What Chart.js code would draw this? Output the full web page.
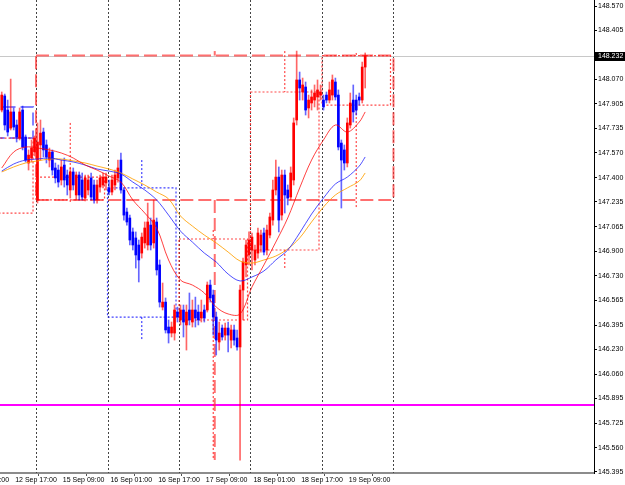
<!DOCTYPE html>
<html>
<head>
<meta charset="utf-8">
<script src="https://cdn.jsdelivr.net/npm/chart.js@4.4.1/dist/chart.umd.min.js"></script>
<style>
  html, body { margin: 0; padding: 0; background: #fff; }
  #wrap { width: 625px; height: 485px; }
</style>
</head>
<body>
<div id="wrap"><canvas id="chart" width="625" height="485"></canvas></div>
<script>
// H1 bars, index 0 = 12 Sep 12:00
const opens = [
  147.861, 147.957, 147.861, 147.738, 147.848, 147.759, 147.670, 147.861, 147.677, 147.500, 147.534, 147.575,
  147.248, 147.623, 147.711, 147.623, 147.520, 147.575, 147.466, 147.452, 147.384, 147.486, 147.418, 147.316,
  147.439, 147.282, 147.418, 147.384, 147.261, 147.316, 147.398, 147.350, 147.248, 147.336, 147.350, 147.364,
  147.330, 147.302, 147.350, 147.398, 147.520, 147.316, 147.166, 147.125, 147.030, 146.989, 146.941, 146.886,
  146.955, 146.941, 147.077, 146.955, 147.098, 146.805, 146.518, 146.552, 146.382, 146.341, 146.341, 146.484,
  146.430, 146.498, 146.396, 146.498, 146.416, 146.498, 146.484, 146.443, 146.498, 146.498, 146.668, 146.600,
  146.450, 146.280, 146.375, 146.327, 146.375, 146.293, 146.362, 146.307, 146.246, 146.634, 146.805, 146.873,
  146.907, 146.839, 146.886, 146.941, 147.023, 146.907, 147.009, 147.111, 147.316, 147.404, 147.145, 147.418,
  147.316, 147.268, 147.384, 147.793, 148.066, 147.984, 148.018, 147.875, 147.909, 147.929, 147.950, 147.963,
  147.929, 147.963, 147.929, 147.963, 148.052, 147.963, 147.636, 147.589, 147.500, 147.759, 147.929, 147.929,
  147.950, 147.929, 148.154
];
const highs = [
  147.984, 147.970, 147.929, 148.072, 147.875, 147.793, 147.875, 147.888, 147.691, 147.589, 147.657, 147.684,
  147.773, 147.793, 147.738, 147.657, 147.602, 147.589, 147.500, 147.486, 147.520, 147.534, 147.452, 147.466,
  147.466, 147.439, 147.439, 147.432, 147.418, 147.418, 147.432, 147.384, 147.384, 147.418, 147.432, 147.432,
  147.384, 147.418, 147.452, 147.520, 147.568, 147.330, 147.193, 147.145, 147.057, 147.030, 146.975, 147.023,
  147.098, 147.227, 147.125, 147.248, 147.125, 146.839, 146.682, 146.580, 146.430, 146.416, 146.532, 146.518,
  146.532, 146.532, 146.532, 146.614, 146.566, 146.586, 146.532, 146.566, 146.532, 146.689, 146.702, 146.634,
  146.484, 146.416, 146.396, 146.409, 146.416, 146.396, 146.396, 146.362, 146.668, 146.852, 146.975, 147.030,
  147.023, 146.941, 147.057, 147.043, 147.057, 147.077, 147.159, 147.384, 147.520, 147.473, 147.452, 147.452,
  147.350, 147.473, 147.807, 148.263, 148.120, 148.079, 148.052, 147.963, 147.998, 148.032, 148.066, 148.032,
  147.963, 147.984, 148.052, 148.100, 148.079, 147.998, 147.657, 147.623, 147.807, 147.977, 148.032, 147.963,
  147.977, 148.188, 148.250
];
const lows = [
  147.848, 147.725, 147.684, 147.725, 147.725, 147.643, 147.657, 147.589, 147.507, 147.452, 147.507, 147.548,
  147.227, 147.520, 147.541, 147.500, 147.473, 147.418, 147.364, 147.336, 147.350, 147.336, 147.282, 147.261,
  147.316, 147.248, 147.248, 147.248, 147.241, 147.282, 147.248, 147.227, 147.227, 147.302, 147.330, 147.316,
  147.282, 147.282, 147.316, 147.370, 147.295, 147.111, 147.077, 146.941, 146.907, 146.784, 146.689, 146.852,
  146.920, 146.907, 146.907, 146.920, 146.736, 146.518, 146.498, 146.341, 146.273, 146.314, 146.293, 146.416,
  146.396, 146.314, 146.225, 146.396, 146.382, 146.382, 146.396, 146.416, 146.416, 146.484, 146.552, 146.327,
  146.191, 146.225, 146.293, 146.293, 146.212, 146.239, 146.259, 146.225, 145.475, 146.430, 146.723, 146.805,
  146.771, 146.805, 146.852, 146.893, 146.873, 146.873, 146.989, 147.077, 147.282, 147.030, 147.111, 147.159,
  147.214, 147.248, 147.350, 147.759, 147.929, 147.929, 147.827, 147.807, 147.861, 147.882, 147.861, 147.929,
  147.861, 147.909, 147.909, 147.929, 147.929, 147.589, 147.193, 147.452, 147.473, 147.738, 147.779, 147.827,
  147.895, 147.909, 148.011
];
const closes = [
  147.963, 147.759, 147.711, 147.848, 147.745, 147.677, 147.848, 147.609, 147.520, 147.554, 147.602, 147.670,
  147.643, 147.704, 147.589, 147.541, 147.575, 147.452, 147.398, 147.370, 147.473, 147.384, 147.350, 147.439,
  147.350, 147.418, 147.282, 147.268, 147.398, 147.384, 147.268, 147.248, 147.350, 147.398, 147.404, 147.404,
  147.302, 147.384, 147.418, 147.466, 147.316, 147.145, 147.098, 146.975, 146.941, 146.873, 146.839, 146.995,
  147.057, 147.098, 146.941, 147.111, 146.771, 146.552, 146.552, 146.362, 146.341, 146.382, 146.498, 146.450,
  146.498, 146.416, 146.484, 146.430, 146.498, 146.443, 146.430, 146.484, 146.443, 146.668, 146.580, 146.450,
  146.293, 146.341, 146.314, 146.375, 146.327, 146.362, 146.293, 146.246, 146.634, 146.825, 146.941, 146.975,
  146.995, 146.907, 147.023, 147.009, 146.893, 147.043, 147.132, 147.316, 147.404, 147.111, 147.418, 147.282,
  147.261, 147.432, 147.773, 148.066, 148.011, 148.032, 147.861, 147.929, 147.950, 147.977, 147.998, 147.984,
  147.882, 147.929, 147.998, 148.066, 147.950, 147.609, 147.520, 147.500, 147.773, 147.909, 147.848, 147.861,
  147.929, 148.154, 148.232
];

// moving averages at every 4th bar
const maIdx = [0, 4, 8, 12, 16, 20, 24, 28, 32, 36, 40, 44, 48, 52, 56, 60, 64, 68, 72, 76, 80, 84, 88, 92, 96, 100, 104, 108, 112, 116, 120, 122];
const maFast = [147.466, 147.575, 147.609, 147.602, 147.589, 147.568, 147.534, 147.486, 147.452, 147.411, 147.370, 147.248, 147.159, 147.057, 146.839, 146.702,
  146.668, 146.614, 146.518, 146.471, 146.471, 146.655, 146.805, 146.961, 147.125, 147.330, 147.520, 147.657, 147.759, 147.711, 147.779, 147.848];
const maMid = [147.445, 147.493, 147.520, 147.527, 147.534, 147.520, 147.507, 147.486, 147.459, 147.445, 147.425, 147.370, 147.316, 147.248, 147.145, 147.036,
  146.961, 146.886, 146.825, 146.743, 146.696, 146.723, 146.764, 146.839, 146.907, 147.023, 147.152, 147.261, 147.357, 147.404, 147.479, 147.541];
const maSlow = [147.439, 147.473, 147.500, 147.514, 147.527, 147.527, 147.514, 147.500, 147.479, 147.459, 147.432, 147.391, 147.350, 147.302, 147.255, 147.139,
  147.070, 147.009, 146.955, 146.893, 146.832, 146.818, 146.839, 146.866, 146.914, 146.989, 147.098, 147.200, 147.282, 147.330, 147.377, 147.432];

// daily candles (12 Sep .. 19 Sep), bar index of first/last hour
const dayStart = [-12, 12, 36, 60, 84, 108];
const dayEnd = [11, 35, 59, 83, 107, 131];
const dayOpen = [147.159, 147.248, 147.330, 146.430, 146.907, 147.895];
const dayClose = [147.670, 147.404, 146.450, 146.982, 147.984, 148.232];
const dayHigh = [148.072, 147.773, 147.520, 147.043, 148.263, 148.250];
const dayLow = [147.100, 147.227, 146.293, 145.475, 146.771, 147.193];

// weekly candles (8-12 Sep, 15-19 Sep)
const weekStart = [-108, 12];
const weekEnd = [11, 132];
const weekOpen = [147.882, 147.248];
const weekClose = [147.670, 148.232];
const weekHigh = [148.300, 148.263];
const weekLow = [147.100, 145.475];

const daySeparators = [11.5, 35.5, 59.5, 83.5, 107.5, 131.5];
const levelLine = 145.850;
const lastPrice = 148.232;

const xTickPos = [-11.5, 4.5, 20.5, 36.5, 52.5, 68.5, 84.5, 100.5, 116.5];
const xTickLabels = ['12 Sep 01:00', '12 Sep 17:00', '15 Sep 09:00', '16 Sep 01:00', '16 Sep 17:00',
  '17 Sep 09:00', '18 Sep 01:00', '18 Sep 17:00', '19 Sep 09:00'];
const yTickValues = [148.570, 148.405, 148.070, 147.905, 147.735, 147.570, 147.400, 147.235, 147.065, 146.900,
  146.730, 146.565, 146.395, 146.230, 146.060, 145.895, 145.725, 145.560, 145.395];

const FONT = 'Liberation Sans';
const UP = '#ff0000', DOWN = '#0000ff';

const isUp = closes.map((c, i) => c >= opens[i]);
const bodyColors = isUp.map(u => u ? UP : DOWN);
const wickColors = isUp.map(u => u ? 'rgba(255,0,0,0.6)' : 'rgba(0,0,255,0.6)');

function line(ctx, x0, y0, x1, y1) {
  ctx.beginPath();
  ctx.moveTo(x0, y0);
  ctx.lineTo(x1, y1);
  ctx.stroke();
}

// higher timeframe candle: box for body, wick in the middle
function drawHtf(ctx, x, y, s, e, o, c, h, l, mid) {
  const x0 = x.getPixelForValue(s - 0.5), x1 = x.getPixelForValue(e - 0.5);
  const yo = y.getPixelForValue(o), yc = y.getPixelForValue(c);
  const top = Math.min(yo, yc), bot = Math.max(yo, yc);
  ctx.strokeRect(x0, top, x1 - x0, bot - top);
  const xm = x.getPixelForValue(mid);
  line(ctx, xm, y.getPixelForValue(h), xm, top);
  line(ctx, xm, bot, xm, y.getPixelForValue(l));
}

const overlays = {
  id: 'overlays',
  beforeDatasetsDraw(chart) {
    const {ctx, chartArea: a, scales: {x, y}} = chart;
    ctx.save();
    ctx.beginPath();
    ctx.rect(a.left, a.top, a.right - a.left, a.bottom - a.top);
    ctx.clip();

    // day separators
    ctx.strokeStyle = '#444';
    ctx.lineWidth = 1;
    ctx.setLineDash([2, 2]);
    daySeparators.forEach(v => {
      const px = Math.round(x.getPixelForValue(v)) + 0.5;
      line(ctx, px, a.top, px, a.bottom);
    });

    // current price line
    ctx.setLineDash([]);
    ctx.strokeStyle = '#c8c8c8';
    const pp = Math.round(y.getPixelForValue(lastPrice)) + 0.5;
    line(ctx, a.left, pp, a.right, pp);

    // magenta level
    ctx.strokeStyle = '#ff00ff';
    ctx.lineWidth = 2;
    const lp = Math.round(y.getPixelForValue(levelLine));
    line(ctx, a.left, lp, a.right, lp);

    // weekly candles
    ctx.lineWidth = 2;
    ctx.setLineDash([13, 5]);
    weekStart.forEach((s, i) => {
      ctx.strokeStyle = weekClose[i] >= weekOpen[i] ? 'rgba(255,50,50,0.7)' : 'rgba(60,60,255,0.65)';
      drawHtf(ctx, x, y, s, weekEnd[i], weekOpen[i], weekClose[i], weekHigh[i], weekLow[i], (s + weekEnd[i] - 1) / 2);
    });

    // daily candles
    ctx.lineWidth = 1.2;
    ctx.setLineDash([2, 2]);
    dayStart.forEach((s, i) => {
      ctx.strokeStyle = dayClose[i] >= dayOpen[i] ? 'rgba(255,40,40,0.85)' : 'rgba(30,30,255,0.85)';
      drawHtf(ctx, x, y, s, dayEnd[i], dayOpen[i], dayClose[i], dayHigh[i], dayLow[i], s + 11);
    });
    ctx.restore();
  },
  afterDraw(chart) {
    const {ctx, chartArea: a, scales: {y}} = chart;
    const py = Math.round(y.getPixelForValue(lastPrice));
    ctx.save();
    ctx.fillStyle = '#000';
    ctx.fillRect(a.right + 1, py - 4, 31, 9);
    ctx.fillStyle = '#fff';
    ctx.font = '7px "' + FONT + '"';
    ctx.textBaseline = 'middle';
    ctx.fillText(lastPrice.toFixed(3), a.right + 4, py + 0.5);
    ctx.restore();
  }
};

// keep the plot flush with the canvas edges like the terminal does
function noPad(s) {
  s.paddingLeft = 0;
  s.paddingRight = 0;
  s.paddingTop = 0;
  s.paddingBottom = 0;
}

const bars = opens.map((o, i) => i);
const maLine = (vals, color, order) => ({
  type: 'line',
  data: maIdx.map((b, k) => ({x: b, y: vals[k]})),
  borderColor: color,
  borderWidth: 1,
  pointRadius: 0,
  tension: 0.35,
  order: order
});

new Chart(document.getElementById('chart'), {
  type: 'bar',
  data: {
    datasets: [
      {
        data: bars.map(i => ({x: i, y: [lows[i], highs[i]]})),
        backgroundColor: wickColors,
        barThickness: 1,
        grouped: false,
        order: 5
      },
      {
        data: bars.map(i => ({x: i, y: [Math.min(opens[i], closes[i]), Math.max(opens[i], closes[i])]})),
        backgroundColor: bodyColors,
        barThickness: 2,
        minBarLength: 1,
        grouped: false,
        order: 4
      },
      maLine(maSlow, 'rgba(255,160,0,0.85)', 3),
      maLine(maMid, 'rgba(20,20,255,0.75)', 2),
      maLine(maFast, 'rgba(255,0,0,0.75)', 1)
    ]
  },
  options: {
    responsive: false,
    animation: false,
    events: [],
    layout: {padding: 0},
    plugins: {legend: {display: false}, tooltip: {enabled: false}},
    scales: {
      x: {
        type: 'linear',
        min: -0.587,
        max: 198.81,
        offset: false,
        bounds: 'data',
        afterBuildTicks: s => { s.ticks = xTickPos.map(v => ({value: v})); },
        afterFit: s => { s.height = 12; noPad(s); },
        ticks: {
          autoSkip: false, maxRotation: 0, align: 'start', padding: 0,
          color: '#000', font: {family: FONT, size: 7},
          callback: (v, i) => xTickLabels[i]
        },
        grid: {drawOnChartArea: false, tickLength: 3, color: '#555'},
        border: {display: true, color: '#8c8c8c', width: 2}
      },
      y: {
        position: 'right',
        min: 145.387,
        max: 148.611,
        bounds: 'data',
        afterBuildTicks: s => { s.ticks = yTickValues.map(v => ({value: v})); },
        afterFit: s => { s.width = 31; noPad(s); },
        ticks: {
          autoSkip: false, padding: 1,
          color: '#000', font: {family: FONT, size: 7},
          callback: v => v.toFixed(3)
        },
        grid: {drawOnChartArea: false, tickLength: 3, color: '#000'},
        border: {display: true, color: '#000', width: 1}
      }
    }
  },
  plugins: [overlays]
});
</script>
</body>
</html>
